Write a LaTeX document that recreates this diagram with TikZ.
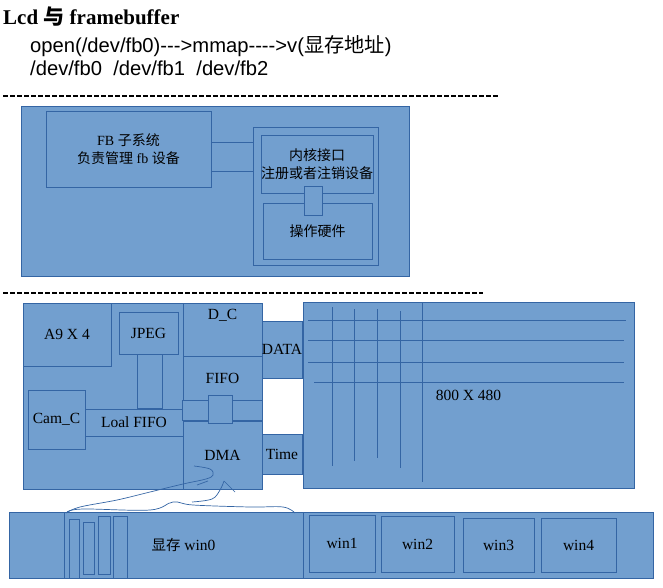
\documentclass[tikz,border=0pt]{standalone}
\usepackage{fontspec}
\setmainfont{Liberation Serif}
\newfontfamily\hsans{Liberation Sans}
\newfontfamily\cjk{Noto Sans CJK SC}
\newcommand{\zhs}[1]{{\cjk #1}}
\definecolor{boxfill}{HTML}{729FCF}
\definecolor{boxline}{HTML}{3465A4}

\begin{document}
\begin{tikzpicture}[x=1pt,y=-1pt,
  blk/.style={draw=boxline,fill=boxfill,line width=0.8pt,inner sep=0pt,align=center,
    font=\fontsize{15.5}{18}\selectfont},
  zhbox/.style={blk,font=\fontsize{14}{18.5}\selectfont},
  head/.style={anchor=base west,inner sep=0pt,font=\hsans\fontsize{20.2}{24}\selectfont},
  cut/.style={line width=2pt,dash pattern=on 5pt off 2pt},
  pen/.style={draw=boxline,line width=0.7pt}]
\useasboundingbox (0,0) rectangle (663,588);

% header
\node[anchor=base west,inner sep=0pt,font=\fontsize{21}{24}\selectfont\bfseries] (title) at (3,25) {Lcd \zhs{\bfseries 与} framebuffer};
\node[head] (openline) at (30,53) {open(/dev/fb0)-{}-{}->mmap-{}-{}-{}->v(\zhs{显存地址})};
\node[head] (devline) at (30,75.5) {/dev/fb0\ \ /dev/fb1\ \ /dev/fb2};
\draw[cut] (3,96.5) -- (498,96.5);

% fb subsystem
\node[blk,minimum width=388pt,minimum height=170pt] (upper) at (215,191) {};
\node[zhbox,minimum width=165pt,minimum height=76pt] (fb) at (128.5,149) {FB \zhs{子系统}\\\zhs{负责管理} fb \zhs{设备}};
\draw[blk] (fb.east |- 0,142) rectangle (253,171);
\node[blk,minimum width=125pt,minimum height=138pt] (kern) at (315.5,196) {};
\node[zhbox,minimum width=110pt,minimum height=58pt] (kif) at (317,164) {\zhs{内核接口}\\\zhs{注册或者注销设备}};
\node[zhbox,minimum width=109pt,minimum height=56pt] (hw) at (317.5,231) {\zhs{操作硬件}};
\draw[blk] ([xshift=-13pt,yshift=7pt]kif.south) rectangle ([xshift=4.5pt,yshift=-13pt]hw.north);

\draw[cut] (3,293) -- (483,293);

% soc
\node[blk,minimum width=239pt,minimum height=186pt] (soc) at (142.5,396) {};
\node[blk,minimum width=88pt,minimum height=63pt] (a9) at (67,334.5) {A9 X 4};
\node[blk,minimum width=59pt,minimum height=42pt] (jpeg) at (148.5,333) {JPEG};
\node[blk,minimum width=98pt,minimum height=27pt] (loal) at (134,422.5) {Loal FIFO};
\draw[blk] (137,0 |- jpeg.south) rectangle (162,0 |- loal.north);
\node[blk,minimum width=57pt,minimum height=59pt] (cam) at (56.5,419.5) {Cam\_C};
\node[blk,minimum width=79pt,minimum height=53pt] (dc) at (222.5,329.5) {};
\node[inner sep=0pt,font=\fontsize{15.5}{18}\selectfont] (dctext) at (222.5,315) {D\_C};
\node[blk,minimum width=79pt,minimum height=44pt] (fifo) at (222.5,378) {FIFO};
\node[blk,minimum width=79pt,minimum height=68pt] (dma) at (222.5,455) {DMA};
\draw[blk] (fifo.south west) rectangle (dma.north east);
\draw[blk] ([xshift=-14.5pt,yshift=5pt]fifo.south) rectangle ([xshift=9.5pt,yshift=-3pt]dma.north);
\node[blk,minimum width=40pt,minimum height=57pt] (data) at (282,349.5) {DATA};
\node[blk,minimum width=40pt,minimum height=40pt] (time) at (282,454) {Time};

% lcd screen
\node[blk,minimum width=331pt,minimum height=186pt] (screen) at (468.5,395) {800 X 480};
\draw[pen] (308,320) -- (626,320);
\draw[pen] (308,340) -- (624,340);
\draw[pen] (308,362) -- (624,362);
\draw[pen] (314,382) -- (624,382);
\draw[pen] (332,307) -- (332,466);
\draw[pen] (354,309) -- (354,461);
\draw[pen] (377,309) -- (377,458);
\draw[pen] (400,311) -- (400,468);
\draw[pen] (422,302) -- (422,482);

% framebuffer memory
\node[blk,minimum width=644pt,minimum height=66pt] (fbmem) at (331,545) {};
\node[blk,minimum width=239pt,minimum height=66pt] (win0) at (183.5,545) {\zhs{\fontsize{14.5}{18}\selectfont 显存} win0};
\draw[blk,fill=none] (69,519) rectangle (79,578);
\draw[blk,fill=none] (83,522) rectangle (94,574);
\draw[blk,fill=none] (98,516) rectangle (110,574);
\draw[blk,fill=none] (113,516) rectangle (127,578);
\node[blk,minimum width=66pt,minimum height=57pt] (win1) at (342,543.5) {win1};
\node[blk,minimum width=73pt,minimum height=56pt] (win2) at (417.5,544) {win2};
\node[blk,minimum width=71pt,minimum height=54pt] (win3) at (498.5,545) {win3};
\node[blk,minimum width=75pt,minimum height=54pt] (win4) at (578.5,545) {win4};

% hand drawn marks
\draw[pen] plot[smooth,tension=0.6] coordinates {(66,513) (80,507) (117,500) (150,492) (183,484) (206,479) (213,475) (210,469) (194,466)};
\draw[pen] (197,485) -- (208,481);
\draw[pen] plot[smooth,tension=0.6] coordinates {(67,512) (83,509) (150,510) (173,502) (193,505) (250,507) (283,507) (295,513)};
\draw[pen] plot[smooth,tension=0.6] coordinates {(192,502) (212,499) (220,490) (224,481)};
\draw[pen] (224,481) -- (235,492);
\end{tikzpicture}
\end{document}
